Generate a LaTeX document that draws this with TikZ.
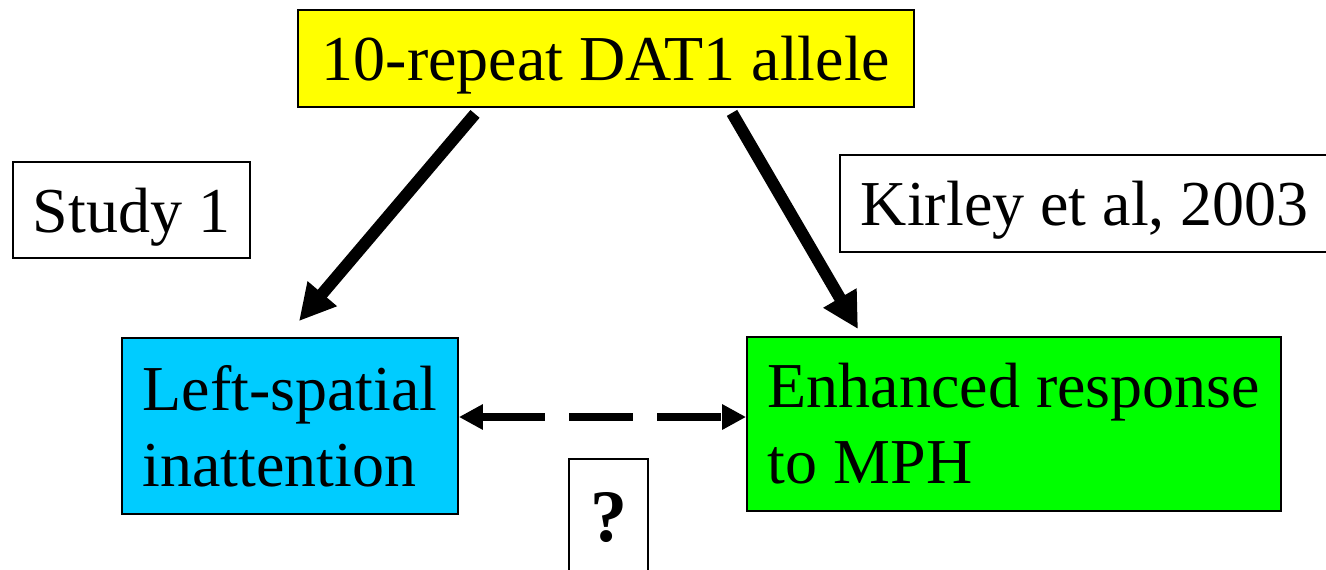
\documentclass[tikz,border=0pt]{standalone}
\usepackage{fontspec}
\setmainfont{Liberation Serif}
\usetikzlibrary{arrows.meta,positioning}
\definecolor{allele}{RGB}{255,255,0}
\definecolor{spatial}{RGB}{0,204,255}
\definecolor{mph}{RGB}{0,255,0}

\begin{document}
\begin{tikzpicture}[x=0.5pt, y=-0.5pt,
    box/.style={draw=black, line width=0.9pt, inner sep=0pt, align=left, font=\fontsize{32}{38}\selectfont},
    oneline/.style={box, text depth=0pt},
    bigarrow/.style={line width=6pt, -{Triangle[length=18pt,width=18pt]}},
    link/.style={line width=4pt, dash pattern=on 32pt off 12pt, {Triangle[length=12pt,width=12pt]}-{Triangle[length=12pt,width=12pt]}}]
    \useasboundingbox (0,0) rectangle (1326,569);
    \node[oneline, fill=allele, minimum width=308pt, minimum height=48.5pt] (dat) at (606,58.5) {10-repeat DAT1 allele};
    \node[oneline, minimum width=118.5pt, minimum height=48pt] (study) at (131.5,210) {Study 1};
    \node[oneline, anchor=west, inner xsep=10.5pt, minimum height=48.5pt] (kirley) at (839,203.5) {\makebox[290pt][l]{Kirley et al, 2003}};
    \node[box, fill=spatial, minimum width=168pt, minimum height=88pt] (spatial) at (290,426) {Left-spatial\\inattention};
    \node[box, fill=mph, minimum width=267pt, minimum height=87pt] (mph) at (1014,424) {Enhanced response\\to MPH};
    \node[oneline, minimum width=39.5pt, minimum height=58pt, font=\fontsize{37}{40}\selectfont\bfseries] (ask) at (608.5,517) {?};
    \draw[bigarrow] ([shift={(-131,6)}]dat.south) -- ([shift={(9,-16)}]spatial.north);
    \draw[bigarrow] ([shift={(126,5)}]dat.south) -- ([shift={(-156,-7)}]mph.north);
    \draw[link] ([shift={(0,-9)}]spatial.east) -- ([shift={(0,-7)}]mph.west);
  \end{tikzpicture}
\end{document}
